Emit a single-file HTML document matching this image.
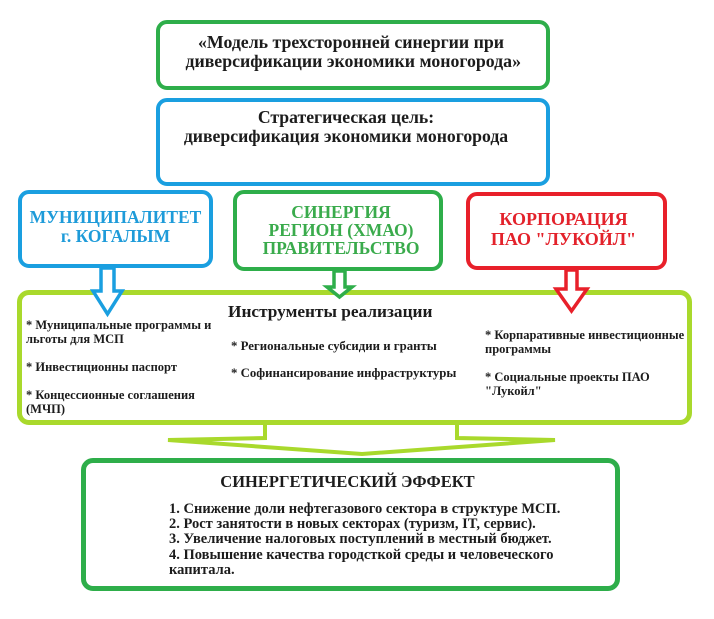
<!DOCTYPE html>
<html>
<head>
<meta charset="utf-8">
<style>
  html, body { margin:0; padding:0; background:#fff; }
  body { width:714px; height:619px; position:relative; overflow:hidden;
         font-family:"Liberation Serif", "Noto Serif CJK SC", serif; font-weight:bold; color:#1c1c1c; }
  .box { position:absolute; box-sizing:border-box; background:#fff; border-radius:11px; }
  .t { position:absolute; white-space:nowrap; }
  .c { text-align:center; }
</style>
</head>
<body>

<!-- big lime hollow arrow (under boxes) -->
<svg width="714" height="619" style="position:absolute;left:0;top:0">
  <polygon points="265,418 265,438 168,440 362,454 555,440 457,438 457,418"
           fill="#fff" stroke="#a9d92c" stroke-width="4" stroke-linejoin="miter"/>
</svg>

<!-- Title box -->
<div class="box" style="left:156px;top:20px;width:394px;height:70px;border:4px solid #2eae4a;"></div>
<div class="t c" style="left:154px;width:394px;top:33px;line-height:19px;font-size:17.8px;">«Модель трехсторонней синергии при<br>&nbsp;диверсификации экономики моногорода»</div>

<!-- Strategy box -->
<div class="box" style="left:156px;top:98px;width:394px;height:88px;border:4.5px solid #1a9fe0;"></div>
<div class="t c" style="left:149px;width:394px;top:108px;line-height:19px;font-size:17.7px;">Стратегическая цель:<br>диверсификация экономики моногорода</div>

<!-- Municipality -->
<div class="box" style="left:18px;top:190px;width:195px;height:78px;border:4.5px solid #1a9fe0;"></div>
<div class="t c" style="left:18px;width:195px;top:208px;line-height:19px;font-size:17.5px;color:#1e9bd9;">МУНИЦИПАЛИТЕТ<br>г. КОГАЛЫМ</div>

<!-- Region -->
<div class="box" style="left:233px;top:190px;width:210px;height:81px;border:4.5px solid #2eae4a;"></div>
<div class="t c" style="left:235px;width:212px;top:203px;line-height:18px;font-size:17.5px;color:#3aab4c;">СИНЕРГИЯ<br>РЕГИОН (ХМАО)<br>ПРАВИТЕЛЬСТВО</div>

<!-- Corporation -->
<div class="box" style="left:466px;top:192px;width:201px;height:78px;border:4.5px solid #e8202a;"></div>
<div class="t c" style="left:463px;width:201px;top:209px;line-height:20px;font-size:18px;color:#e3222b;">КОРПОРАЦИЯ<br>ПАО "ЛУКОЙЛ"</div>

<!-- Lime instruments box -->
<div class="box" style="left:17px;top:290px;width:675px;height:135px;border:5px solid #a9d92c;border-radius:12px;"></div>

<!-- small hollow arrows -->
<svg width="714" height="619" style="position:absolute;left:0;top:0">
  <polygon points="101,268 114,268 114,291 122,291 107.5,314 93,291 101,291"
           fill="#fff" stroke="#1a9fe0" stroke-width="3.5" stroke-linejoin="miter"/>
  <polygon points="334,271 345,271 345,287 352,287 339.5,297 327,287 334,287"
           fill="#fff" stroke="#2eae4a" stroke-width="3.5" stroke-linejoin="miter"/>
  <polygon points="566,270 577,270 577,289 587,289 571.5,311 556,289 566,289"
           fill="#fff" stroke="#e8202a" stroke-width="3.5" stroke-linejoin="miter"/>
</svg>

<div class="t" style="left:228px;top:302px;line-height:20px;font-size:17.3px;">Инструменты реализации</div>

<div class="t" style="left:26px;top:318px;line-height:14px;font-size:12.5px;">* Муниципальные программы и<br>льготы для МСП<br><br>* Инвестиционны паспорт<br><br>* Концессионные соглашения<br>(МЧП)</div>

<div class="t" style="left:231px;top:333px;line-height:27px;font-size:12.8px;">* Региональные субсидии и гранты<br>* Софинансирование инфраструктуры</div>

<div class="t" style="left:485px;top:328px;line-height:14px;font-size:12.5px;">* Корпаративные инвестиционные<br>программы<br><br>* Социальные проекты ПАО<br>"Лукойл"</div>

<!-- Synergy effect box -->
<div class="box" style="left:81px;top:458px;width:539px;height:133px;border:5px solid #2eae4a;border-radius:12px;"></div>
<div class="t c" style="left:78px;width:539px;top:472px;line-height:20px;font-size:16.5px;">СИНЕРГЕТИЧЕСКИЙ ЭФФЕКТ</div>
<div class="t" style="left:169px;top:502px;line-height:15.2px;font-size:14.5px;">1. Снижение доли нефтегазового сектора в структуре МСП.<br>2. Рост занятости в новых секторах (туризм, IT, сервис).<br>3. Увеличение налоговых поступлений в местный бюджет.<br>4. Повышение качества городсткой среды и человеческого<br>капитала.</div>

</body>
</html>
